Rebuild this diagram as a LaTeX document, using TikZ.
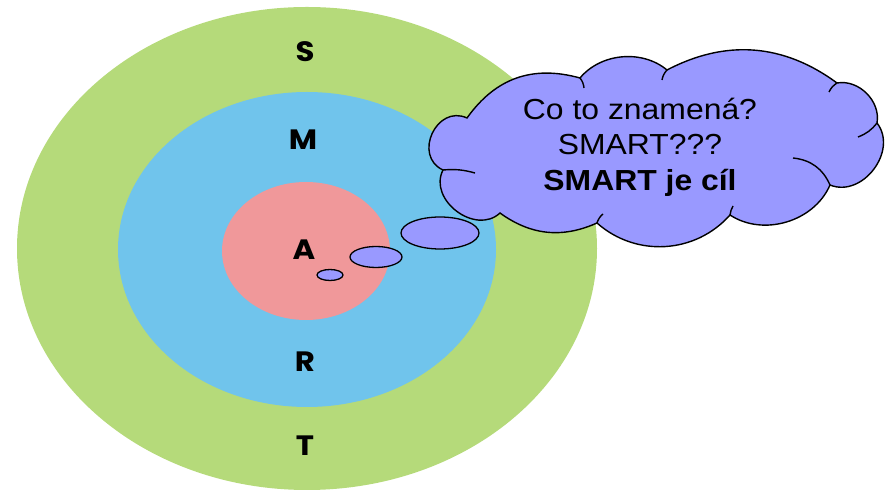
\documentclass[tikz,border=0pt]{standalone}
\usepackage{fontspec}
\setmainfont{Liberation Sans}
\newfontfamily\letterfont{Poppins}
\usetikzlibrary{shapes.geometric}
\definecolor{ringgreen}{HTML}{B5DA7A}
\definecolor{ringblue}{HTML}{70C4EC}
\definecolor{ringpink}{HTML}{F0989A}
\definecolor{cloudfill}{HTML}{9999FF}
\tikzset{
  ring/.style={ellipse, draw=none, inner sep=0pt},
  letter/.style={font=\letterfont\bfseries\fontsize{28}{28}\selectfont, xscale=1.1, transform shape, inner sep=0pt},
  bubble/.style={ellipse, draw=black, line width=1.3pt, fill=cloudfill, inner sep=0pt},
  cloudline/.style={draw=black, line width=1.4pt},
  cloudtext/.style={align=center, font=\fontsize{29}{35.5}\selectfont, xscale=1.1, transform shape, inner sep=0pt}
}
\begin{document}
\begin{tikzpicture}[x=1pt,y=1pt]
\useasboundingbox (0,0) rectangle (895,492);
\node[ring, fill=ringgreen, minimum width=580pt, minimum height=483pt] (outer) at (307,243.5) {};
\node[ring, fill=ringblue, minimum width=378pt, minimum height=315pt] (middle) at (307,242.5) {};
\node[ring, fill=ringpink, minimum width=168pt, minimum height=138pt] (inner) at (306,241) {};
\node[letter] (S) at (305,440) {S};
\node[letter] (M) at (303,352) {M};
\node[letter] (A) at (304,242) {A};
\node[letter] (R) at (305,130) {R};
\node[letter] (T) at (305,46) {T};
\node[bubble, minimum width=26pt, minimum height=11pt] (b1) at (330,217) {};
\node[bubble, minimum width=52pt, minimum height=21pt] (b2) at (376,235) {};
\node[bubble, minimum width=78pt, minimum height=32pt] (b3) at (440,259) {};
% cloud
\coordinate (J1) at (467,374);
\coordinate (J2) at (580,414);
\coordinate (J3) at (667,422);
\coordinate (J4) at (837,409);
\coordinate (J5) at (877,369);
\coordinate (J6) at (830,307);
\coordinate (Jd) at (730,277);
\coordinate (Jc) at (597,269);
\coordinate (Jb) at (500,279);
\coordinate (Ja) at (443,322);
\path[cloudline, fill=cloudfill] (J1)
  to[bend left=35, looseness=1.05] (J2)
  to[bend left=45, looseness=0.95] (J3)
  to[bend left=32, looseness=1.0] (J4)
  to[bend left=55, looseness=1.0] (J5)
  to[bend left=75, looseness=1.15] (J6)
  to[bend left=50, looseness=0.98] (Jd)
  to[bend left=45, looseness=1.0] (Jc)
  to[bend left=30, looseness=1.0] (Jb)
  to[bend left=80, looseness=1.2] (Ja)
  to[bend left=90, looseness=1.5] cycle;
\draw[cloudline] (Ja) to[bend left=10] (475,319);
\draw[cloudline] (J6) to[bend right=30] (793,334);
\draw[cloudline] (J5) to[bend left=15] (858,355);
\draw[cloudline] (J2) to[bend left=15] (584,404);
\draw[cloudline] (J3) to[bend right=15] (662,412);
\draw[cloudline] (J4) to[bend right=15] (829,400);
\draw[cloudline] (Jc) to[bend left=15] (603,278);
\draw[cloudline] (Jd) to[bend left=10] (733,286);
\node[cloudtext] (txt) at (640,345) {Co to znamená?\\SMART???\\\textbf{SMART je cíl}};
\end{tikzpicture}
\end{document}
